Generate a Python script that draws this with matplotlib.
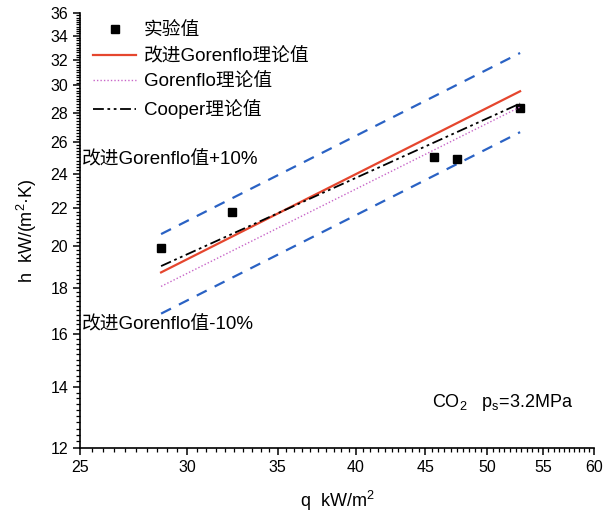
import matplotlib
matplotlib.use('Agg')
import matplotlib.pyplot as plt
import numpy as np
from matplotlib.ticker import NullFormatter

plt.rcParams['font.family'] = ['Liberation Sans', 'Noto Sans CJK SC']

# measured points
q_exp = [28.7, 32.4, 45.7, 47.5, 52.9]
h_exp = [19.9, 21.8, 25.0, 24.9, 28.3]

# theory lines (end points, straight on log-log)
q_line = [28.7, 52.9]
h_gor_mod = [18.7, 29.55]
h_gor = [18.05, 28.4]
h_cooper = [19.0, 28.65]
h_up = [20.6, 32.55]
h_low = [16.85, 26.65]

xticks = [25, 30, 35, 40, 45, 50, 55, 60]
yticks = [12, 14, 16, 18, 20, 22, 24, 26, 28, 30, 32, 34, 36]

fig = plt.figure(figsize=(6.04, 5.24), dpi=100)
ax = fig.add_axes([0.1325, 0.145, 0.851, 0.83])

ax.plot(q_line, h_up, color='#2a62c4', lw=1.6, ls=(0, (5, 4)))
ax.plot(q_line, h_low, color='#2a62c4', lw=1.6, ls=(0, (5, 4)))
ax.plot(q_exp, h_exp, 's', color='black', ms=6, ls='none', label='实验值')
ax.plot(q_line, h_gor_mod, color='#e5462e', lw=1.6, label='改进Gorenflo理论值')
ax.plot(q_line, h_gor, color='#c866c8', lw=1.0, ls=(0, (1, 1.5)), label='Gorenflo理论值')
ax.plot(q_line, h_cooper, color='black', lw=1.3, ls=(0, (6, 2, 1.5, 2, 1.5, 2)), label='Cooper理论值')

ax.set_xscale('log')
ax.set_yscale('log')
ax.set_xlim(25, 60)
ax.set_ylim(12, 36)
ax.set_xticks(xticks)
ax.set_xticklabels([str(t) for t in xticks])
ax.set_yticks(yticks)
ax.set_yticklabels([str(t) for t in yticks])
ax.set_xticks(np.arange(25, 60.01, 0.5), minor=True)
ax.set_yticks(np.arange(12, 36.01, 0.2), minor=True)
ax.xaxis.set_minor_formatter(NullFormatter())
ax.yaxis.set_minor_formatter(NullFormatter())
ax.tick_params(which='major', direction='out', length=5, width=1.1, labelsize=11.5)
ax.tick_params(which='minor', direction='out', length=3, width=0.9)

ax.spines['top'].set_visible(False)
ax.spines['right'].set_visible(False)
ax.spines['left'].set_linewidth(1.2)
ax.spines['bottom'].set_linewidth(1.2)

ax.set_xlabel('q  kW/m$^\\mathregular{2}$', fontsize=13, labelpad=10)
ax.set_ylabel('h  kW/(m$^\\mathregular{2}$·K)', fontsize=13, labelpad=8)

leg = ax.legend(loc='upper left', bbox_to_anchor=(0.0, 1.009), frameon=False,
                fontsize=13.5, handlelength=2.3, handletextpad=0.4,
                labelspacing=0.45, borderaxespad=0.3)

ax.text(0.004, 0.664, '改进Gorenflo值+10%', transform=ax.transAxes,
        fontsize=13.5, va='center', ha='left')
ax.text(0.004, 0.284, '改进Gorenflo值-10%', transform=ax.transAxes,
        fontsize=13.5, va='center', ha='left')
ax.text(0.685, 0.105, 'CO$_\\mathregular{2}$   p$_\\mathregular{s}$=3.2MPa', transform=ax.transAxes,
        fontsize=13, va='center', ha='left')

fig.savefig('out.png', dpi=100)
